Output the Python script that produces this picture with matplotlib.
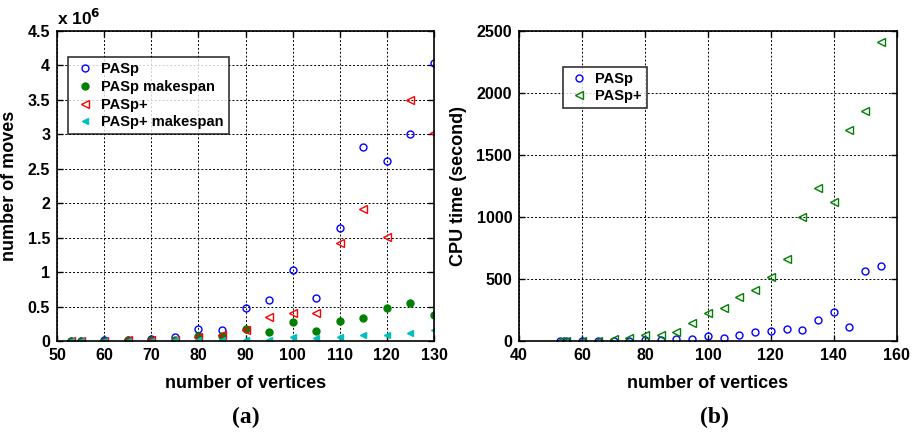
import matplotlib
matplotlib.use("Agg")
import matplotlib.pyplot as plt

plt.rcParams['font.family'] = ['Liberation Sans', 'DejaVu Sans']
plt.rcParams['font.weight'] = 'bold'

# ---- panel (a): number of moves (x 10^6) ----
verts_a = [53, 55, 60, 65, 70, 75, 80, 85, 90, 95, 100, 105, 110, 115, 120, 125, 130]
pasp_moves = [0.005, 0.005, 0.01, 0.015, 0.03, 0.063, 0.175, 0.16, 0.485, 0.60, 1.03,
              0.62, 1.64, 2.82, 2.61, 3.005, 4.04]
pasp_makespan = [0.005, 0.005, 0.005, 0.008, 0.01, 0.02, 0.068, 0.068, 0.175, 0.13, 0.28,
                 0.15, 0.29, 0.34, 0.48, 0.553, 0.374]
paspp_moves = [0.005, 0.005, 0.005, 0.01, 0.01, 0.02, 0.058, 0.09, 0.155, 0.354, 0.40,
               0.41, 1.42, 1.92, 1.51, 3.495, 3.015]
paspp_makespan = [0.003, 0.003, 0.005, 0.005, 0.006, 0.008, 0.01, 0.01, 0.015, 0.02, 0.058,
                  0.048, 0.063, 0.083, 0.083, 0.117, 0.155]

# ---- panel (b): CPU time (second) ----
verts_b = [53, 55, 60, 65, 70, 75, 80, 85, 90, 95, 100, 105, 110, 115, 120, 125, 130,
           135, 140, 145, 150, 155]
pasp_cpu = [0, 0, 0, 0, 2, 3, 5, 8, 20, 20, 38, 27, 49, 70, 81, 97, 89, 170, 237, 113,
            566, 606]
paspp_cpu = [0, 0, 0, 2, 16, 24, 46, 51, 75, 148, 226, 264, 353, 415, 515, 660, 997,
             1237, 1121, 1702, 1852, 2414]

xticks_a = [50, 60, 70, 80, 90, 100, 110, 120, 130]
yticks_a = [0, 0.5, 1, 1.5, 2, 2.5, 3, 3.5, 4, 4.5]
yticklabels_a = ['0', '0.5', '1', '1.5', '2', '2.5', '3', '3.5', '4', '4.5']
xticks_b = [40, 60, 80, 100, 120, 140, 160]
yticks_b = [0, 500, 1000, 1500, 2000, 2500]

BLUE = '#0000ff'
GREEN = '#008000'
RED = '#ff0000'
CYAN = '#00bfbf'

fig = plt.figure(figsize=(9.14, 4.33), dpi=100)
ax1 = fig.add_axes([0.0624, 0.2125, 0.4124, 0.716])
ax2 = fig.add_axes([0.568, 0.2125, 0.413, 0.716])


def style(ax):
    ax.grid(True, color='black', linestyle=(0, (2, 2)), linewidth=0.7)
    ax.set_axisbelow(True)
    for s in ax.spines.values():
        s.set_linewidth(1.2)
        s.set_color('black')
    ax.tick_params(direction='in', length=4, width=1, labelsize=11.5,
                   top=True, right=True, pad=5)
    for lab in ax.get_xticklabels() + ax.get_yticklabels():
        lab.set_fontweight('bold')


ms = 5
ax1.plot(verts_a, pasp_moves, 'o', mfc='none', mec=BLUE, ms=ms, mew=1, label='PASp')
ax1.plot(verts_a, pasp_makespan, 'o', color=GREEN, ms=ms, label='PASp makespan')
ax1.plot(verts_a, paspp_moves, '<', mfc='none', mec=RED, ms=ms + 1, mew=1, label='PASp+')
ax1.plot(verts_a, paspp_makespan, '<', color=CYAN, ms=ms, label='PASp+ makespan')
ax1.set_xlim(50, 130)
ax1.set_ylim(0, 4.5)
ax1.set_xticks(xticks_a)
ax1.set_yticks(yticks_a)
ax1.set_yticklabels(yticklabels_a)
style(ax1)
ax1.set_xlabel('number of vertices', fontsize=13, fontweight='bold', labelpad=9)
ax1.set_ylabel('number of moves', fontsize=13, fontweight='bold', labelpad=7)
ax1.text(0.0, 1.008, r'x 10$^{\mathbf{6}}$', transform=ax1.transAxes, fontsize=12.5,
         fontweight='bold', ha='left', va='bottom')
leg1 = ax1.legend(loc='upper left', bbox_to_anchor=(0.03, 0.915), fontsize=10.5,
                  frameon=True, fancybox=False, edgecolor='black', handletextpad=0.3,
                  borderpad=0.35, labelspacing=0.25, handlelength=1.6, borderaxespad=0)
leg1.get_frame().set_linewidth(1.2)
for t in leg1.get_texts():
    t.set_fontweight('bold')

ax2.plot(verts_b, pasp_cpu, 'o', mfc='none', mec=BLUE, ms=ms, mew=1, label='PASp')
ax2.plot(verts_b, paspp_cpu, '<', mfc='none', mec=GREEN, ms=ms + 1, mew=1, label='PASp+')
ax2.set_xlim(40, 160)
ax2.set_ylim(0, 2500)
ax2.set_xticks(xticks_b)
ax2.set_yticks(yticks_b)
style(ax2)
ax2.set_xlabel('number of vertices', fontsize=13, fontweight='bold', labelpad=9)
ax2.set_ylabel('CPU time (second)', fontsize=13, fontweight='bold', labelpad=7)
leg2 = ax2.legend(loc='upper left', bbox_to_anchor=(0.115, 0.885), fontsize=10.5,
                  frameon=True, fancybox=False, edgecolor='black', handletextpad=0.3,
                  borderpad=0.35, labelspacing=0.25, handlelength=1.6, borderaxespad=0)
leg2.get_frame().set_linewidth(1.2)
for t in leg2.get_texts():
    t.set_fontweight('bold')

fig.text(0.2686, 0.035, '(a)', fontsize=17, fontweight='bold',
         family=['Liberation Serif', 'DejaVu Serif'], ha='center', va='center')
fig.text(0.782, 0.035, '(b)', fontsize=17, fontweight='bold',
         family=['Liberation Serif', 'DejaVu Serif'], ha='center', va='center')

fig.savefig('out.png', dpi=100)
